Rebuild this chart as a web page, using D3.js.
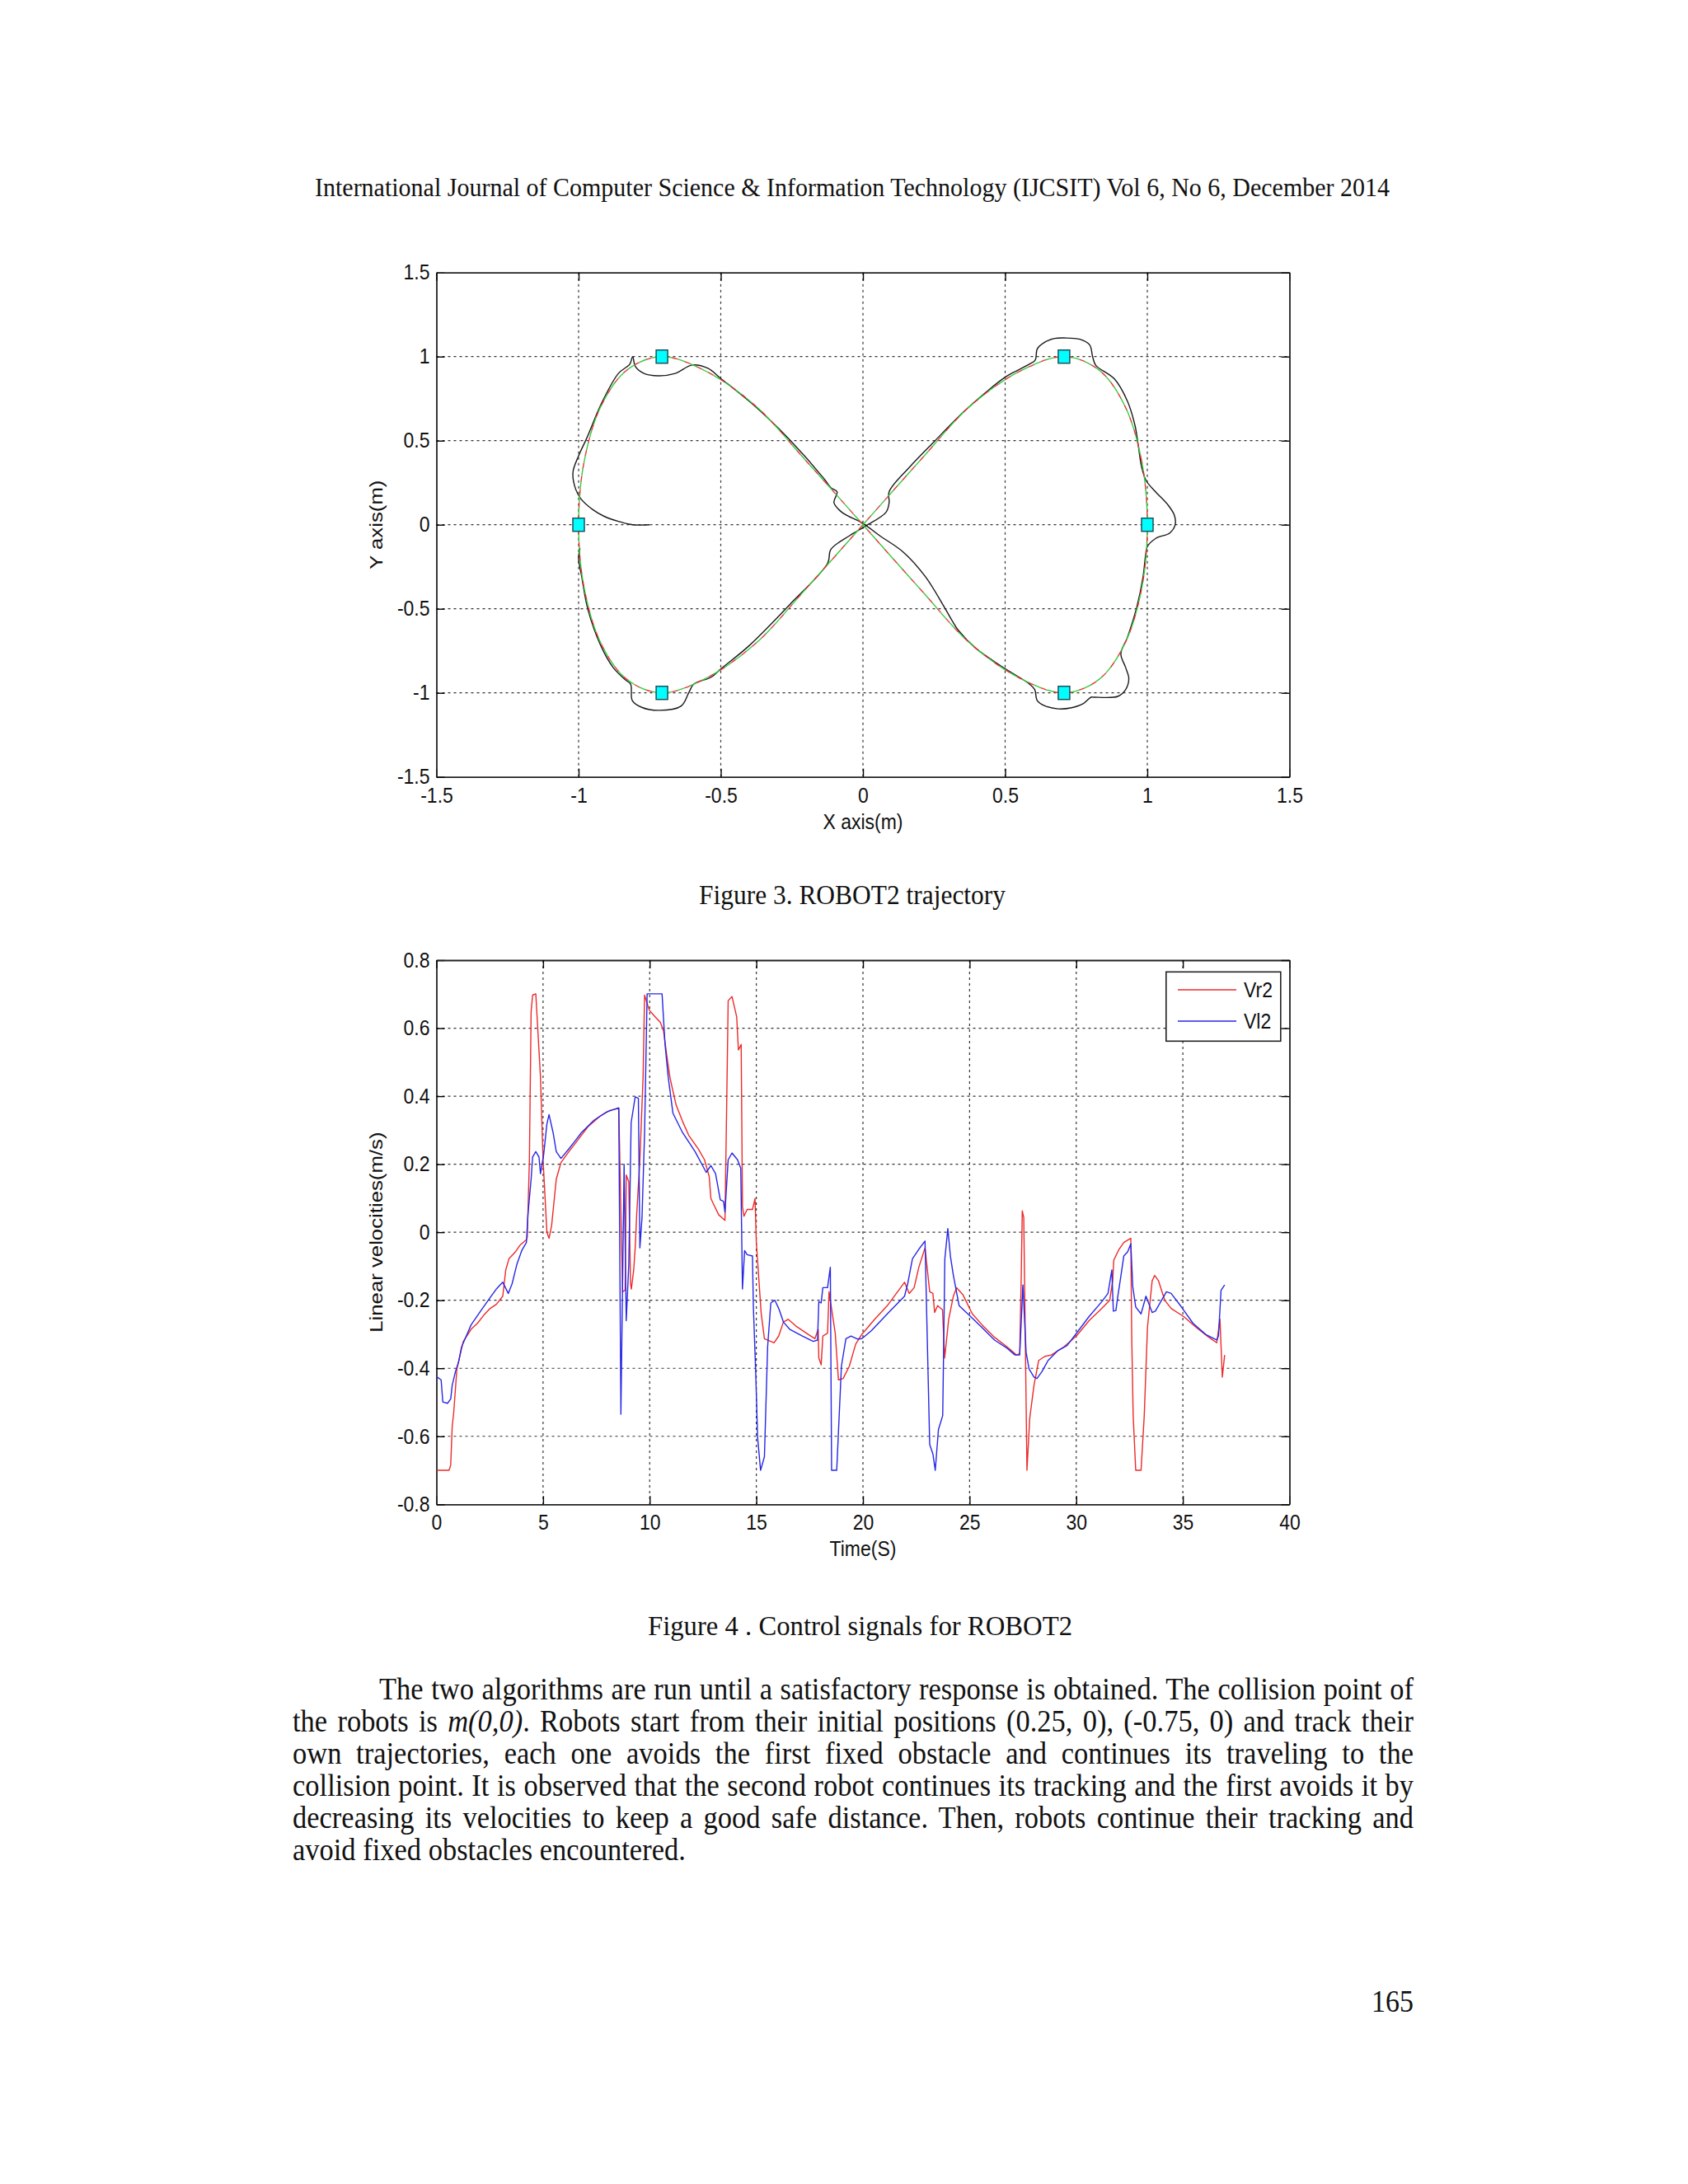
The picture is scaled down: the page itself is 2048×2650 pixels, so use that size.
<!DOCTYPE html>
<html>
<head>
<meta charset="utf-8">
<script src="https://cdn.jsdelivr.net/npm/d3@7"></script>
<style>
  body { margin: 0; background: #fff; }
</style>
</head>
<body>
<div id="page"></div>
<script>
// ---- Figure 3: ROBOT2 trajectory ----
const trajTicks = [-1.5, -1, -0.5, 0, 0.5, 1, 1.5];

// desired lemniscate path
const refX = [1.0, 0.98, 0.92, 0.83, 0.71, 0.56, 0.38, 0.2, 0, -0.2, -0.38, -0.56, -0.71, -0.83, -0.92, -0.98,
  -1.0, -0.98, -0.92, -0.83, -0.71, -0.56, -0.38, -0.2, 0, 0.2, 0.38, 0.56, 0.71, 0.83, 0.92, 0.98];
const refY = [0, 0.38, 0.71, 0.92, 1.0, 0.92, 0.71, 0.38, 0, -0.38, -0.71, -0.92, -1.0, -0.92, -0.71, -0.38,
  0, 0.38, 0.71, 0.92, 1.0, 0.92, 0.71, 0.38, 0, -0.38, -0.71, -0.92, -1.0, -0.92, -0.71, -0.38];

// actual robot path (black line)
const trajX = [-0.75, -0.81, -0.86, -0.91, -0.95, -0.99, -1.01, -1.02, -1.0, -0.97, -0.92, -0.86, -0.82, -0.81, -0.80,
  -0.77, -0.72, -0.66, -0.60, -0.545, -0.50, -0.39, -0.26, -0.135, -0.113, -0.091, -0.102, -0.074, 0.0, 0.059,
  0.142, 0.22, 0.286, 0.314, 0.336, 0.397, 0.486, 0.586, 0.604, 0.613, 0.641, 0.686, 0.73, 0.774, 0.802, 0.813,
  0.896, 0.924, 0.935, 0.924, 0.907, 0.93, 0.963, 0.985, 0.994, 1.0, 1.03, 1.079, 1.098, 1.095, 1.074, 1.029,
  0.996, 0.98, 0.968, 0.957, 0.93, 0.885, 0.819, 0.808, 0.797, 0.763, 0.708, 0.674, 0.641, 0.613, 0.606, 0.586,
  0.53, 0.497, 0.441, 0.353, 0.253, 0.164, 0.092, 0.092, 0.081, 0.009, -0.047, -0.113, -0.124, -0.257, -0.40,
  -0.50, -0.534, -0.595, -0.612, -0.639, -0.717, -0.778, -0.811, -0.817, -0.835, -0.878, -0.922, -0.967, -0.989,
  -1.0, -0.995];
const trajY = [0, 0, 0.02, 0.05, 0.09, 0.15, 0.21, 0.31, 0.41, 0.52, 0.72, 0.90, 0.955, 1.0, 0.94,
  0.90, 0.886, 0.90, 0.95, 0.93, 0.87, 0.72, 0.51, 0.27, 0.22, 0.196, 0.131, 0.074, 0.008, -0.065,
  -0.163, -0.31, -0.49, -0.572, -0.629, -0.735, -0.841, -0.948, -0.98, -1.046, -1.078, -1.095, -1.09, -1.065, -1.026, -1.026,
  -1.021, -0.98, -0.915, -0.85, -0.768, -0.67, -0.49, -0.31, -0.18, -0.13, -0.081, -0.049, 0.0, 0.057, 0.115, 0.196,
  0.262, 0.343, 0.474, 0.588, 0.735, 0.866, 0.948, 0.997, 1.07, 1.103, 1.111, 1.108, 1.087, 1.046, 0.98, 0.956,
  0.907, 0.874, 0.80, 0.67, 0.499, 0.343, 0.196, 0.131, 0.074, -0.008, -0.065, -0.147, -0.228, -0.474, -0.719,
  -0.858, -0.907, -0.948, -0.997, -1.078, -1.104, -1.086, -1.046, -0.948, -0.923, -0.85, -0.719, -0.506, -0.31,
  -0.2, -0.14];

// fixed obstacles (cyan squares)
const obsX = [-0.707, 0.707, -1, 1, -0.707, 0.707];
const obsY = [1, 1, 0, 0, -1, -1];

// ---- Figure 4: control signals ----
const timeTicks = [0, 5, 10, 15, 20, 25, 30, 35, 40];
const velTicks = [-0.8, -0.6, -0.4, -0.2, 0, 0.2, 0.4, 0.6, 0.8];

const timeR = [0.03, 0.59, 0.67, 0.74, 0.81, 0.96, 1.11, 1.26, 1.63, 1.92, 2.22, 2.52, 2.81, 3.11, 3.25, 3.40, 3.70, 3.92,
  4.22, 4.26, 4.36, 4.44, 4.51, 4.66, 4.88, 5.00, 5.18, 5.28, 5.40, 5.62, 5.84, 6.21, 6.51, 7.10, 7.69, 8.13, 8.55,
  8.73, 8.85, 8.90, 9.02, 9.10, 9.14, 9.25, 9.32, 9.39, 9.54, 9.69, 9.76, 9.98, 10.2, 10.5, 10.65, 10.8, 10.95, 11.09,
  11.24, 11.54, 11.83, 12.28, 12.57, 12.79, 12.87, 13.02, 13.24, 13.53, 13.61, 13.68, 13.86, 14.08, 14.16, 14.23,
  14.29, 14.35, 14.42, 14.57, 14.82, 14.94, 15.00, 15.23, 15.38, 15.68, 15.83, 16.05, 16.27, 16.49, 16.86, 17.45,
  17.75, 17.90, 17.93, 18.04, 18.12, 18.34, 18.41, 18.70, 18.85, 19.07, 19.36, 19.66, 19.95, 20.55, 21.14, 21.95,
  22.17, 22.40, 22.62, 22.91, 23.13, 23.28, 23.36, 23.50, 23.73, 23.83, 24.02, 24.24, 24.39, 24.69, 25.13, 25.58,
  26.17, 26.76, 27.20, 27.35, 27.42, 27.47, 27.54, 27.65, 27.69, 27.82, 28.02, 28.24, 28.53, 28.83, 29.42, 30.01,
  30.60, 31.20, 31.57, 31.71, 31.76, 32.01, 32.23, 32.45, 32.56, 32.60, 32.67, 32.79, 33.04, 33.19, 33.34, 33.56,
  33.68, 33.86, 34.15, 34.45, 35.04, 35.63, 36.22, 36.59, 36.74, 36.85, 36.96];
const vr2 = [-0.70, -0.70, -0.685, -0.571, -0.531, -0.402, -0.361, -0.321, -0.285, -0.268, -0.244, -0.224, -0.212, -0.188, -0.111, -0.078, -0.058, -0.038,
  -0.022, -0.014, 0.213, 0.649, 0.697, 0.701, 0.455, 0.213, 0.0, -0.018, 0.019, 0.156, 0.205, 0.237, 0.261, 0.31, 0.342, 0.358, 0.364,
  -0.175, -0.17, 0.168, 0.148, -0.15, -0.167, -0.111, -0.046, 0.051, 0.213, 0.455, 0.697, 0.653, 0.637, 0.617, 0.592, 0.52, 0.455, 0.415,
  0.374, 0.326, 0.285, 0.245, 0.213, 0.164, 0.099, 0.079, 0.051, 0.035, 0.374, 0.681, 0.693, 0.633, 0.536, 0.544,
  0.552, 0.075, 0.047, 0.067, 0.067, 0.099, -0.03, -0.24, -0.313, -0.321, -0.325, -0.305, -0.264, -0.256, -0.276, -0.301,
  -0.313, -0.285, -0.37, -0.39, -0.305, -0.297, -0.175, -0.297, -0.434, -0.43, -0.394, -0.329, -0.30, -0.256, -0.216, -0.147,
  -0.18, -0.163, -0.103, -0.046, -0.175, -0.18, -0.236, -0.216, -0.228, -0.37, -0.256, -0.188, -0.163, -0.184, -0.24, -0.272,
  -0.309, -0.337, -0.361, -0.357, -0.135, 0.063, 0.043, -0.499, -0.70, -0.547, -0.45, -0.377, -0.365, -0.361, -0.337, -0.305,
  -0.26, -0.224, -0.20, -0.143, -0.082, -0.05, -0.03, -0.022, -0.018, -0.297, -0.539, -0.70, -0.70, -0.539, -0.28, -0.143,
  -0.127, -0.143, -0.20, -0.224, -0.248, -0.28, -0.309, -0.325, -0.256, -0.426, -0.361];

const timeL = [0.03, 0.22, 0.30, 0.52, 0.67, 0.74, 0.89, 1.04, 1.18, 1.63, 2.07, 2.52, 2.81, 3.11, 3.37, 3.55, 3.77, 4.00,
  4.22, 4.29, 4.44, 4.51, 4.66, 4.81, 4.88, 5.03, 5.18, 5.28, 5.47, 5.62, 5.84, 6.21, 6.51, 6.80, 7.40, 7.99, 8.55,
  8.65, 8.80, 8.90, 9.02, 9.13, 9.32, 9.47, 9.54, 9.64, 9.76, 9.88, 10.58, 10.72, 10.87, 11.09, 11.54, 12.13, 12.65,
  12.87, 13.09, 13.31, 13.46, 13.53, 13.68, 13.86, 14.12, 14.27, 14.35, 14.45, 14.57, 14.82, 14.86, 14.97, 15.06,
  15.20, 15.38, 15.53, 15.68, 15.87, 16.05, 16.27, 16.56, 17.16, 17.67, 17.87, 17.93, 18.04, 18.12, 18.34, 18.47,
  18.53, 18.77, 18.99, 19.20, 19.44, 19.73, 19.95, 20.40, 21.14, 21.95, 22.10, 22.32, 22.62, 22.91, 23.13, 23.28,
  23.39, 23.54, 23.74, 23.84, 23.98, 24.10, 24.24, 24.51, 24.98, 25.58, 26.17, 26.76, 27.13, 27.35, 27.50, 27.65,
  27.79, 28.02, 28.16, 28.39, 28.68, 29.12, 29.57, 30.01, 30.60, 31.20, 31.49, 31.67, 31.74, 31.86, 31.96, 32.08,
  32.23, 32.41, 32.56, 32.65, 32.79, 33.04, 33.27, 33.56, 33.71, 34.23, 34.45, 34.89, 35.48, 36.08, 36.59, 36.67,
  36.79, 36.96];
const vl2 = [-0.426, -0.434, -0.499, -0.503, -0.49, -0.45, -0.41, -0.381, -0.337, -0.272, -0.232, -0.192, -0.167, -0.147, -0.18, -0.151, -0.095, -0.054,
  -0.03, 0.051, 0.156, 0.221, 0.237, 0.221, 0.172, 0.229, 0.318, 0.346, 0.293, 0.237, 0.217, 0.245, 0.269, 0.293, 0.33, 0.354, 0.366,
  -0.535, 0.20, -0.26, -0.095, 0.322, 0.398, 0.394, -0.046, 0.043, 0.293, 0.701, 0.701, 0.552, 0.455, 0.35, 0.293, 0.237, 0.176,
  0.196, 0.172, 0.095, 0.091, 0.059, 0.213, 0.233, 0.213, 0.188, -0.167, -0.054, -0.066, -0.07, -0.216, -0.41, -0.604,
  -0.70, -0.66, -0.337, -0.208, -0.20, -0.224, -0.264, -0.285, -0.305, -0.321, -0.317, -0.204, -0.208, -0.163, -0.163, -0.103,
  -0.70, -0.70, -0.394, -0.313, -0.305, -0.314, -0.313, -0.289, -0.24, -0.188, -0.151, -0.078, -0.05, -0.026, -0.624, -0.652,
  -0.70, -0.58, -0.539, -0.078, 0.011, -0.07, -0.127, -0.216, -0.244, -0.28, -0.317, -0.341, -0.361, -0.361, -0.155, -0.353,
  -0.402, -0.426, -0.43, -0.41, -0.377, -0.349, -0.333, -0.297, -0.248, -0.204, -0.18, -0.111, -0.232, -0.23, -0.184, -0.135,
  -0.07, -0.058, -0.034, -0.159, -0.22, -0.24, -0.188, -0.236, -0.232, -0.175, -0.18, -0.216, -0.268, -0.301, -0.317, -0.305,
  -0.171, -0.155];

const legendNames = ['Vr2', 'Vl2'];

// ---- page text ----
const headerText = 'International Journal of Computer Science & Information Technology (IJCSIT) Vol 6, No 6, December 2014';
const caption3 = 'Figure 3. ROBOT2 trajectory';
const caption4 = 'Figure 4 . Control signals for ROBOT2';
const bodyLines = [
  [['The two algorithms are run until a satisfactory response is obtained. The collision point of']],
  [['the robots is '], ['m(0,0)', 'italic'], ['. Robots start from their initial positions (0.25, 0), (-0.75, 0) and track their']],
  [['own trajectories, each one avoids the first fixed obstacle and continues its traveling to the']],
  [['collision point. It is observed that the second robot continues its tracking and the first avoids it by']],
  [['decreasing its velocities to keep a good safe distance. Then, robots continue their tracking and']],
  [['avoid fixed obstacles encountered.']]
];
const pageNumber = '165';

const W = 2048, H = 2650;
const SANS = '"Liberation Sans", Arial, Helvetica, sans-serif';
const SERIF = '"Liberation Serif", "Times New Roman", Times, serif';
const SY = 1.12; // the scanned page is a little taller than wide, text looks stretched

const svg = d3.select('#page').append('svg')
  .attr('width', W).attr('height', H)
  .attr('viewBox', `0 0 ${W} ${H}`);
svg.append('rect').attr('width', W).attr('height', H).attr('fill', '#fff');

// text placed at (x, y) and stretched vertically about its baseline
function label(parent, x, y, extra = '') {
  return parent.append('text')
    .attr('transform', `translate(${x},${y}) scale(1,${SY}) ${extra}`)
    .attr('fill', '#111');
}

// matlab-like axes: dotted grid, inside ticks on four sides, box
function drawAxes(g, x, y, xTicks, yTicks) {
  const [x0, x1] = x.range();
  const [y0, y1] = y.range();
  const fmt = d => String(d);

  g.append('g').selectAll('line').data(xTicks.slice(1, -1)).join('line')
    .attr('x1', d => x(d)).attr('x2', d => x(d)).attr('y1', y1).attr('y2', y0)
    .attr('stroke', '#333').attr('stroke-width', 1.2).attr('stroke-dasharray', '3,4');
  g.append('g').selectAll('line').data(yTicks.slice(1, -1)).join('line')
    .attr('y1', d => y(d)).attr('y2', d => y(d)).attr('x1', x0).attr('x2', x1)
    .attr('stroke', '#333').attr('stroke-width', 1.2).attr('stroke-dasharray', '3,4');

  const style = a => a
    .attr('font-size', 23).attr('font-family', SANS)
    .call(s => s.selectAll('text').attr('fill', '#111').attr('transform', `scale(1,${SY})`))
    .call(s => s.selectAll('line').attr('stroke-width', 1.4))
    .call(s => s.select('.domain').attr('stroke-width', 1.8).attr('stroke', '#222'));

  g.append('g').attr('transform', `translate(0,${y0})`)
    .call(d3.axisBottom(x).tickValues(xTicks).tickSizeInner(-10).tickSizeOuter(0).tickPadding(11.5).tickFormat(fmt))
    .call(style);
  g.append('g').attr('transform', `translate(${x0},0)`)
    .call(d3.axisLeft(y).tickValues(yTicks).tickSizeInner(-10).tickSizeOuter(0).tickPadding(8).tickFormat(fmt))
    .call(style);
  g.append('g').attr('transform', `translate(0,${y1})`)
    .call(d3.axisTop(x).tickValues(xTicks).tickSizeInner(-10).tickSizeOuter(0).tickFormat(''))
    .call(style);
  g.append('g').attr('transform', `translate(${x1},0)`)
    .call(d3.axisRight(y).tickValues(yTicks).tickSizeInner(-10).tickSizeOuter(0).tickFormat(''))
    .call(style);
}

function axisTitles(g, x, y, xTitle, yTitle) {
  const [x0, x1] = x.range();
  const [y0, y1] = y.range();
  label(g, (x0 + x1) / 2, y0 + 63)
    .attr('text-anchor', 'middle').attr('font-family', SANS).attr('font-size', 23)
    .text(xTitle);
  label(g, 464, (y0 + y1) / 2, 'rotate(-90)')
    .attr('text-anchor', 'middle').attr('font-family', SANS).attr('font-size', 23)
    .text(yTitle);
}

// ---------- Figure 3 ----------
{
  const x = d3.scaleLinear().domain([-1.5, 1.5]).range([529.5, 1564.5]);
  const y = d3.scaleLinear().domain([-1.5, 1.5]).range([942.7, 330.7]);
  const g = svg.append('g');
  drawAxes(g, x, y, trajTicks, trajTicks);

  svg.append('clipPath').attr('id', 'clip3').append('rect')
    .attr('x', 529.5).attr('y', 330.7).attr('width', 1035).attr('height', 612);
  const plot = g.append('g').attr('clip-path', 'url(#clip3)');

  const trajLine = d3.line().x(i => x(trajX[i])).y(i => y(trajY[i])).curve(d3.curveCatmullRom.alpha(0.5));
  plot.append('path').attr('d', trajLine(d3.range(trajX.length)))
    .attr('fill', 'none').attr('stroke', '#1a1a1a').attr('stroke-width', 1.4);

  const refLine = d3.line().x(i => x(refX[i])).y(i => y(refY[i])).curve(d3.curveCatmullRomClosed.alpha(0.5));
  const refD = refLine(d3.range(refX.length));
  plot.append('path').attr('d', refD)
    .attr('fill', 'none').attr('stroke', '#e8343a').attr('stroke-width', 1.4)
    .attr('stroke-dasharray', '7,9');
  plot.append('path').attr('d', refD)
    .attr('fill', 'none').attr('stroke', '#3cc83c').attr('stroke-width', 1.4)
    .attr('stroke-dasharray', '10,6').attr('stroke-dashoffset', 9);

  plot.append('g').selectAll('rect').data(d3.range(obsX.length)).join('rect')
    .attr('x', i => x(obsX[i]) - 7).attr('y', i => y(obsY[i]) - 8)
    .attr('width', 14).attr('height', 16)
    .attr('fill', '#00ffff').attr('stroke', '#1d4f5c').attr('stroke-width', 1.5);

  axisTitles(g, x, y, 'X axis(m)', 'Y axis(m)');
}

// ---------- Figure 4 ----------
{
  const x = d3.scaleLinear().domain([0, 40]).range([529.5, 1564.5]);
  const y = d3.scaleLinear().domain([-0.8, 0.8]).range([1825.3, 1165]);
  const g = svg.append('g');
  drawAxes(g, x, y, timeTicks, velTicks);

  svg.append('clipPath').attr('id', 'clip4').append('rect')
    .attr('x', 529.5).attr('y', 1165).attr('width', 1035).attr('height', 660.3);
  const plot = g.append('g').attr('clip-path', 'url(#clip4)');

  const lineR = d3.line().x(i => x(timeR[i])).y(i => y(vr2[i]));
  const lineL = d3.line().x(i => x(timeL[i])).y(i => y(vl2[i]));
  plot.append('path').attr('d', lineR(d3.range(timeR.length)))
    .attr('fill', 'none').attr('stroke', '#ec2a2a').attr('stroke-width', 1.4).attr('stroke-linejoin', 'round');
  plot.append('path').attr('d', lineL(d3.range(timeL.length)))
    .attr('fill', 'none').attr('stroke', '#2727e6').attr('stroke-width', 1.4).attr('stroke-linejoin', 'round');

  // legend
  const colors = ['#ec2a2a', '#2727e6'];
  const lg = g.append('g');
  lg.append('rect').attr('x', 1414.8).attr('y', 1179.3).attr('width', 139).attr('height', 84)
    .attr('fill', '#fff').attr('stroke', '#222').attr('stroke-width', 1.6);
  legendNames.forEach((name, i) => {
    const ly = 1201 + i * 38;
    lg.append('line').attr('x1', 1429).attr('x2', 1500).attr('y1', ly).attr('y2', ly)
      .attr('stroke', colors[i]).attr('stroke-width', 1.4);
    label(lg, 1509, ly + 9)
      .attr('font-family', SANS).attr('font-size', 23).text(name);
  });

  axisTitles(g, x, y, 'Time(S)', 'Linear velocities(m/s)');
}

// ---------- page text ----------
label(svg, 382, 238)
  .attr('font-family', SERIF).attr('font-size', 29)
  .attr('textLength', 1304).attr('lengthAdjust', 'spacingAndGlyphs')
  .text(headerText);

label(svg, 848, 1097)
  .attr('font-family', SERIF).attr('font-size', 31)
  .attr('textLength', 372).attr('lengthAdjust', 'spacingAndGlyphs')
  .text(caption3);

label(svg, 786, 1984)
  .attr('font-family', SERIF).attr('font-size', 31)
  .attr('textLength', 515).attr('lengthAdjust', 'spacingAndGlyphs')
  .text(caption4);

// justified body paragraph
const bodyLeft = 355, bodyRight = 1715, indent = 105;
const baselines = [2062, 2101, 2140, 2179, 2218, 2257];
bodyLines.forEach((segs, li) => {
  const x0 = li === 0 ? bodyLeft + indent : bodyLeft;
  const t = label(svg, x0, baselines[li])
    .attr('font-family', SERIF).attr('font-size', 34.5);
  segs.forEach(([s, st]) => {
    const ts = t.append('tspan').text(s);
    if (st) ts.attr('font-style', st);
  });
  if (li < bodyLines.length - 1) {
    const natural = t.node().getComputedTextLength();
    const spaces = segs.map(d => d[0]).join('').split(' ').length - 1;
    const ws = (bodyRight - x0 - natural) / spaces;
    t.style('word-spacing', ws + 'px');
  }
});

label(svg, 1715, 2441).attr('text-anchor', 'end')
  .attr('font-family', SERIF).attr('font-size', 34)
  .text(pageNumber);
</script>
</body>
</html>
